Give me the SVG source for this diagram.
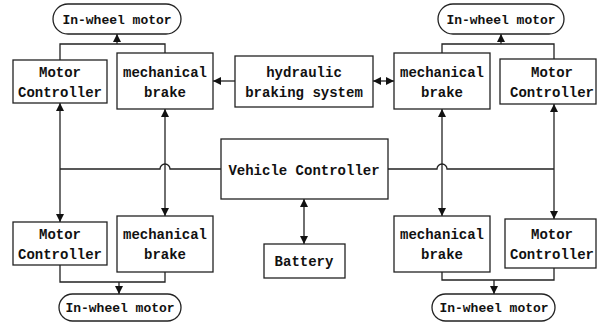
<svg xmlns="http://www.w3.org/2000/svg" width="597" height="322" viewBox="0 0 597 322">
<style>
.box{fill:#fff;stroke:#222;stroke-width:1.3}
.t{font-family:"Liberation Mono","DejaVu Sans Mono",monospace;font-weight:bold;font-size:14px;fill:#111;text-anchor:middle}
.tm{font-size:13px}
.c{fill:none;stroke:#222;stroke-width:1.3}
</style>
<defs>
<marker id="ah" viewBox="0 0 10 10" refX="10" refY="5" markerUnits="userSpaceOnUse" markerWidth="8" markerHeight="8" orient="auto-start-reverse">
<path d="M0,0 L10,5 L0,10 z" fill="#111"/>
</marker>
</defs>
<rect width="597" height="322" fill="#fff"/>
<g id="connectors">
<path class="c" d="M60,60 V44 H165 V53"/>
<path class="c" d="M117,44 V34" marker-end="url(#ah)"/>
<path class="c" d="M442,53 V44 H554 V59"/>
<path class="c" d="M501,44 V34" marker-end="url(#ah)"/>
<path class="c" d="M60,265 V282 H165 V272"/>
<path class="c" d="M119,282 V294" marker-end="url(#ah)"/>
<path class="c" d="M442,272 V280 H554 V268"/>
<path class="c" d="M494,280 V294" marker-end="url(#ah)"/>
<path class="c" d="M235,81 H213" marker-end="url(#ah)"/>
<path class="c" d="M373,81 H394" marker-start="url(#ah)" marker-end="url(#ah)"/>
<path class="c" d="M60,103 V222" marker-start="url(#ah)" marker-end="url(#ah)"/>
<path class="c" d="M165,109 V216" marker-start="url(#ah)" marker-end="url(#ah)"/>
<path class="c" d="M442,109 V216" marker-start="url(#ah)" marker-end="url(#ah)"/>
<path class="c" d="M554,104 V219" marker-start="url(#ah)" marker-end="url(#ah)"/>
<path class="c" d="M304,199 V244" marker-start="url(#ah)" marker-end="url(#ah)"/>
<path class="c" d="M60,169 H160 A5,5 0 0 1 170,169 H221"/>
<path class="c" d="M388,169 H437 A5,5 0 0 1 447,169 H554"/>
</g>
<g id="iwm-tl"><rect class="box" x="53" y="4" width="128" height="30" rx="15"/><text class="t tm" x="117" y="24">In-wheel motor</text></g>
<g id="iwm-tr"><rect class="box" x="438" y="4" width="126" height="30" rx="15"/><text class="t tm" x="501" y="24">In-wheel motor</text></g>
<g id="iwm-bl"><rect class="box" x="59" y="294" width="122" height="27" rx="13.5"/><text class="t tm" x="120" y="312">In-wheel motor</text></g>
<g id="iwm-br"><rect class="box" x="432" y="294" width="123" height="27" rx="13.5"/><text class="t tm" x="494" y="312">In-wheel motor</text></g>
<g id="mc-tl"><rect class="box" x="13" y="60" width="94" height="43"/><text class="t" x="60" y="77">Motor</text><text class="t" x="60" y="97">Controller</text></g>
<g id="mb-tl"><rect class="box" x="117" y="53" width="96" height="56"/><text class="t" x="165" y="77">mechanical</text><text class="t" x="165" y="97">brake</text></g>
<g id="hyd"><rect class="box" x="235" y="56" width="138" height="51"/><text class="t" x="304" y="77">hydraulic</text><text class="t" x="304" y="97">braking system</text></g>
<g id="mb-tr"><rect class="box" x="394" y="53" width="96" height="56"/><text class="t" x="442" y="77">mechanical</text><text class="t" x="442" y="97">brake</text></g>
<g id="mc-tr"><rect class="box" x="500" y="59" width="96" height="45"/><text class="t" x="552" y="77">Motor</text><text class="t" x="552" y="97">Controller</text></g>
<g id="vc"><rect class="box" x="221" y="139" width="167" height="60"/><text class="t" x="304" y="175">Vehicle Controller</text></g>
<g id="bat"><rect class="box" x="264" y="244" width="81" height="34"/><text class="t" x="304" y="266">Battery</text></g>
<g id="mc-bl"><rect class="box" x="13" y="222" width="94" height="43"/><text class="t" x="60" y="239">Motor</text><text class="t" x="60" y="259">Controller</text></g>
<g id="mb-bl"><rect class="box" x="117" y="216" width="96" height="56"/><text class="t" x="165" y="239">mechanical</text><text class="t" x="165" y="259">brake</text></g>
<g id="mb-br"><rect class="box" x="394" y="216" width="96" height="56"/><text class="t" x="442" y="239">mechanical</text><text class="t" x="442" y="259">brake</text></g>
<g id="mc-br"><rect class="box" x="505" y="219" width="91" height="49"/><text class="t" x="552" y="239">Motor</text><text class="t" x="552" y="259">Controller</text></g>
</svg>
